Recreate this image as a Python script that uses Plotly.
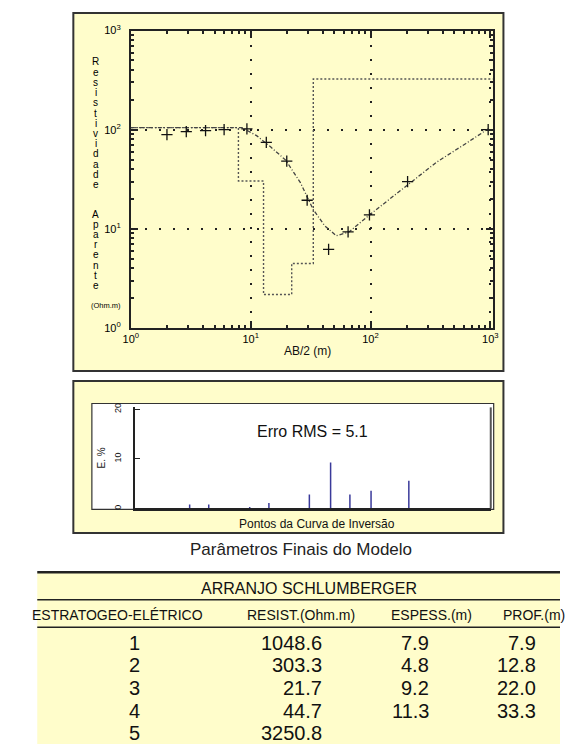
import plotly.graph_objects as go

W, H = 566, 750


def X(px):
    return px / W


def Y(py):
    return 1 - py / H


# ---------------- data ----------------
ab2_field = [2.0, 2.9, 4.2, 6.0, 9.3, 13.5, 20.0, 29.6, 44.7, 65.0, 98.0, 204.0, 960.0]
rho_field = [891, 955, 980, 1000, 1020, 743, 482, 194, 62, 93, 138, 299, 1000]

ab2_model = [1, 8.45, 11.2, 14.8, 19.6, 26, 33.1, 41.5, 51.9, 66.2, 98, 140, 204, 357, 626, 964]
rho_model = [1047, 1047, 871, 664, 493, 292, 158, 107, 85, 93, 138, 194, 279, 471, 726, 1023]

layer_id = [1, 2, 3, 4, 5]
layer_res = [1048.6, 303.3, 21.7, 44.7, 3250.8]
layer_thk = [7.9, 4.8, 9.2, 11.3]
layer_depth = [7.9, 12.8, 22.0, 33.3]

err_pct = [0, 0.8, 0.8, 0, 0.3, 1.1, 0, 2.8, 9.3, 2.8, 3.6, 5.6, 0]
rms_error = 5.1

x_tick_vals = [1, 10, 100, 1000]
x_tick_text = ["10<sup>0</sup>", "10<sup>1</sup>", "10<sup>2</sup>", "10<sup>3</sup>"]
y_tick_vals = [10, 100, 1000, 10000]
y_tick_text = ["10<sup>0</sup>", "10<sup>1</sup>", "10<sup>2</sup>", "10<sup>3</sup>"]

FONT = "Arial, Liberation Sans, sans-serif"
DARK = "#222222"
YELLOW = "#FFFDCB"

X_RANGE = [0, 3.02]

# step model from layers
step_x, step_y = [], []
left = 1
for i, r in enumerate(layer_res):
    right = layer_depth[i] if i < len(layer_depth) else 10 ** X_RANGE[1]
    step_x += [left, right]
    step_y += [r, r]
    left = right

# error stems
stem_x, stem_y = [], []
for xv, ev in zip(ab2_field, err_pct):
    if ev > 0:
        stem_x += [xv, xv, None]
        stem_y += [0, ev, None]

fig = go.Figure()
fig.add_trace(go.Scatter(x=step_x, y=step_y, mode="lines",
                         line=dict(color="#555555", width=1.4, dash="2px,2px"),
                         xaxis="x", yaxis="y", showlegend=False))
fig.add_trace(go.Scatter(x=ab2_model, y=rho_model, mode="lines",
                         line=dict(color="#444444", width=1.3, dash="4px,2px,1px,2px"),
                         xaxis="x", yaxis="y", showlegend=False))
fig.add_trace(go.Scatter(x=ab2_field, y=rho_field, mode="markers",
                         marker=dict(symbol="cross-thin", size=8,
                                     line=dict(color="#111111", width=1.3)),
                         xaxis="x", yaxis="y", showlegend=False))
fig.add_trace(go.Scatter(x=stem_x, y=stem_y, mode="lines",
                         line=dict(color="#3a3a9a", width=1.5),
                         xaxis="x2", yaxis="y2", showlegend=False))

minor_vals = [m * 10 ** k for k in range(0, 4) for m in range(2, 10)]

fig.update_layout(
    width=W, height=H,
    margin=dict(l=0, r=0, t=0, b=0),
    paper_bgcolor="white",
    plot_bgcolor="white",
    font=dict(family=FONT, color=DARK),
    xaxis=dict(
        type="log", range=X_RANGE, domain=[X(126), X(497)], anchor="y",
        showline=True, linecolor=DARK, linewidth=2, mirror="ticks",
        ticks="inside", ticklen=7, tickwidth=1.5, tickcolor=DARK,
        tickvals=x_tick_vals, ticktext=x_tick_text,
        tickfont=dict(size=11, family=FONT, color="#000"),
        showgrid=True, gridcolor=DARK, gridwidth=1.5, griddash="2px,12px",
        minor=dict(ticks="inside", ticklen=3, tickcolor=DARK, tickvals=minor_vals,
                   showgrid=False),
        zeroline=False,
    ),
    yaxis=dict(
        type="log", range=[1, 4], domain=[Y(326), Y(23)], anchor="x",
        showline=True, linecolor=DARK, linewidth=2, mirror="ticks",
        ticks="inside", ticklen=7, tickwidth=1.5, tickcolor=DARK,
        tickvals=y_tick_vals, ticktext=y_tick_text,
        tickfont=dict(size=11, family=FONT, color="#000"),
        ticklabelstandoff=6,
        showgrid=True, gridcolor=DARK, gridwidth=1.5, griddash="2px,12px",
        minor=dict(ticks="inside", ticklen=3, tickcolor=DARK, tickvals=minor_vals,
                   showgrid=False),
        zeroline=False,
    ),
    xaxis2=dict(
        type="log", range=[0, 3], domain=[X(130), X(495)], anchor="y2",
        showline=True, linecolor=DARK, linewidth=2.5,
        ticks="", showticklabels=False, showgrid=False, zeroline=False,
    ),
    yaxis2=dict(
        range=[0, 20.4], domain=[Y(510), Y(407)], anchor="x2",
        showline=True, linecolor=DARK, linewidth=1.5,
        ticks="inside", ticklen=5, tickcolor=DARK, dtick=10,
        tickangle=-90, tickfont=dict(size=9, family=FONT, color="#111"),
        ticklabelstandoff=8,
        title=dict(text="E. %", font=dict(size=10, family=FONT), standoff=6),
        showgrid=False, zeroline=False,
    ),
)

shapes = [
    # top panel
    dict(type="rect", xref="paper", yref="paper", x0=X(67), x1=X(508), y0=Y(370), y1=Y(5),
         fillcolor=YELLOW, line=dict(color="#333", width=2), layer="below"),
    # bottom panel
    dict(type="rect", xref="paper", yref="paper", x0=X(67), x1=X(508), y0=Y(535), y1=Y(380),
         fillcolor=YELLOW, line=dict(color="#333", width=2), layer="below"),
    dict(type="rect", xref="paper", yref="paper", x0=X(86), x1=X(498), y0=Y(511), y1=Y(403),
         fillcolor="white", line=dict(color="#333", width=1.2), layer="below"),
    dict(type="line", xref="paper", yref="paper", x0=X(495), x1=X(495), y0=Y(510), y1=Y(407),
         line=dict(color="#555", width=2)),
    # table
    dict(type="rect", xref="paper", yref="paper", x0=X(30), x1=X(566), y0=Y(750), y1=Y(575),
         fillcolor=YELLOW, line=dict(width=0), layer="below"),
    dict(type="line", xref="paper", yref="paper", x0=X(30), x1=X(566), y0=Y(575), y1=Y(575),
         line=dict(color="#222", width=2.5)),
    dict(type="line", xref="paper", yref="paper", x0=X(30), x1=X(566), y0=Y(603), y1=Y(603),
         line=dict(color="#222", width=1.5)),
    dict(type="line", xref="paper", yref="paper", x0=X(30), x1=X(566), y0=Y(631), y1=Y(631),
         line=dict(color="#222", width=1.5)),
]

ann = []


def text(px, py, s, size, xanchor="center", color="#111", **kw):
    ann.append(dict(xref="paper", yref="paper", x=X(px), y=Y(py), text=s, showarrow=False,
                    xanchor=xanchor, yanchor="middle",
                    font=dict(size=size, family=FONT, color=color), **kw))


# vertical stacked y-axis title (one letter per line)
ytitle_words = ["Resistividade", "Aparente"]
word_start_y = [55, 210]
for word, y0 in zip(ytitle_words, word_start_y):
    for k, ch in enumerate(word):
        text(90, y0 + k * 10.4, ch, 10, color="#000")

text(100, 303, "(Ohm.m)", 7.5, color="#000")
text(307, 350, "AB/2 (m)", 12)
text(312, 432, f"Erro RMS = {rms_error}", 16)
text(317, 526, "Pontos da Curva de Inversão", 12)
text(300, 552, "Parâmetros Finais do Modelo", 17, color="#222")

# table
text(309, 592, "ARRANJO SCHLUMBERGER", 16)
text(202, 619, "ESTRATOGEO-ELÉTRICO", 14, xanchor="right")
text(300, 619, "RESIST.(Ohm.m)", 14)
text(434, 619, "ESPESS.(m)", 14)
text(505, 619, "PROF.(m)", 14, xanchor="left")

row_y = [647, 670, 693, 716, 739]
for i, lid in enumerate(layer_id):
    text(130, row_y[i], str(lid), 20)
    text(324, row_y[i], f"{layer_res[i]:.1f}", 20, xanchor="right")
    if i < len(layer_thk):
        text(434, row_y[i], f"{layer_thk[i]:.1f}", 20, xanchor="right")
        text(543, row_y[i], f"{layer_depth[i]:.1f}", 20, xanchor="right")

fig.update_layout(shapes=shapes, annotations=ann)
fig.write_html("out.html")
